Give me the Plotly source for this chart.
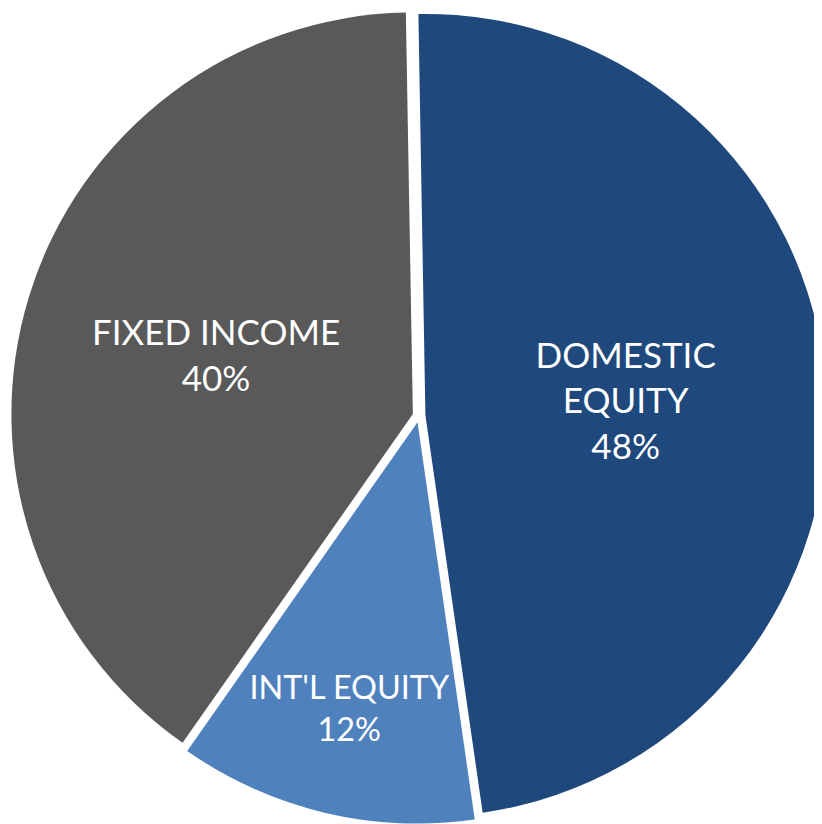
import plotly.graph_objects as go

labels = ["DOMESTIC<br>EQUITY", "INT'L EQUITY", "FIXED INCOME"]
values = [48, 12, 40]
colors = ["#1F497D", "#4F81BD", "#595959"]

fig = go.Figure(go.Pie(
    labels=labels,
    values=values,
    sort=False,
    direction="clockwise",
    rotation=-1,
    pull=[0.016, 0.016, 0.016],
    domain=dict(x=[0, 1], y=[0.01, 1]),
    marker=dict(colors=colors, line=dict(width=0)),
    texttemplate="%{label}<br>%{percent:.0%}",
    textposition="inside",
    insidetextorientation="horizontal",
    textfont=dict(family="Lato", size=[35, 33, 35], color="white"),
    hoverinfo="skip",
    showlegend=False,
))

fig.update_layout(
    width=822, height=824,
    margin=dict(l=0, r=0, t=0, b=0),
    paper_bgcolor="white",
    plot_bgcolor="white",
)

fig.write_html("out.html")
